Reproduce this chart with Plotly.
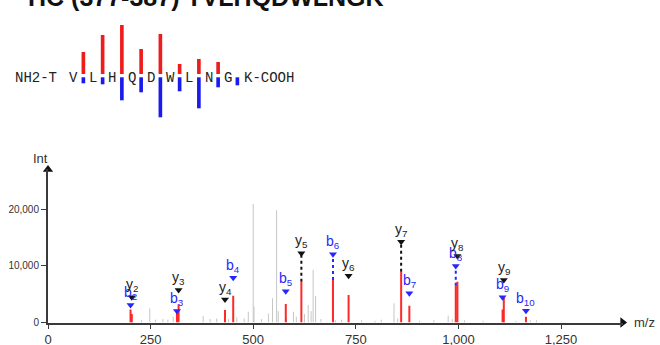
import plotly.graph_objects as go

# ---------------- data ----------------
title_text = "HC (377-387) TVLHQDWLNGK"

residues = ["T", "V", "L", "H", "Q", "D", "W", "L", "N", "G", "K"]
# fragment coverage bars between residue k and k+1 (k = 1..9)
site_index = [1.5, 2.5, 3.5, 4.5, 5.5, 6.5, 7.5, 8.5, 9.5]
site_red = [22, 39, 49, 25, 40, 10, 15, 12, 0]
site_blue = [6, 7, 23, 15, 40, 14, 31, 10, 8]

# matched fragment ions
ion_names = ["b2", "y2", "b3", "y3", "y4", "b4", "b5", "y5", "b6", "y6",
             "y7", "b7", "b8", "y8", "y9", "b9", "b10"]
ion_mz = [201.12, 204.13, 314.20, 318.18, 431.26, 451.26, 579.32, 617.34, 694.35, 732.37,
          860.42, 880.43, 993.51, 997.48, 1110.57, 1107.55, 1164.58]
ion_int = [2300, 1500, 1800, 3200, 2200, 4700, 3250, 7200, 7500, 4850,
           8950, 2950, 6500, 7200, 4300, 2300, 1000]
ion_mark = [3090, 4440, 2050, 5730, 4050, 7900, 5500, 12200, 12050, 8250,
            14250, 5150, 9960, 11730, 7500, 4440, 2080]
connected = ["y5", "b6", "y7", "b8"]

# unmatched peaks
gray_mz = [228, 248, 262, 280, 292, 305, 378, 395, 411, 440, 460, 478, 488, 500, 502,
           520, 537, 547, 557, 561, 581, 598, 605, 625, 634, 641, 646, 652, 665, 700,
           715, 764, 797, 812, 843, 852, 905, 940, 975, 985, 1015, 1060, 1140, 1175, 1190]
gray_int = [400, 2500, 500, 600, 500, 1000, 1150, 600, 700, 600, 900, 700, 1900, 20900, 2800,
            600, 1600, 4270, 19800, 2000, 900, 1900, 1000, 1500, 3090, 2000, 9300, 4700, 600, 400,
            500, 400, 300, 500, 3390, 700, 300, 400, 1200, 600, 400, 300, 300, 400, 400]

x_ticks = [0, 250, 500, 750, 1000, 1250]
y_ticks = [0, 10000, 20000]

# ---------------- figure ----------------
W, H = 660, 345
fig = go.Figure()

RED = "rgba(255,30,30,0.95)"
BLUE = "#2626ff"
GRAY = "#c6c6c6"
AX = "#3a3a3a"

# gray peaks
gx, gy = [], []
for m, v in zip(gray_mz, gray_int):
    gx += [m, m, None]
    gy += [0, v, None]
fig.add_trace(go.Scatter(x=gx, y=gy, mode="lines", line=dict(color=GRAY, width=1),
                         hoverinfo="skip", showlegend=False))

# red matched peaks
rx, ry = [], []
for m, v in zip(ion_mz, ion_int):
    rx += [m, m, None]
    ry += [0, v, None]
fig.add_trace(go.Scatter(x=rx, y=ry, mode="lines", line=dict(color=RED, width=2),
                         hoverinfo="skip", showlegend=False))

# dotted connectors
for name, m, v, mk in zip(ion_names, ion_mz, ion_int, ion_mark):
    if name in connected:
        col = "#111" if name[0] == "y" else BLUE
        fig.add_trace(go.Scatter(x=[m, m], y=[v, mk], mode="lines",
                                 line=dict(color=col, width=2, dash="dot"),
                                 hoverinfo="skip", showlegend=False))

# markers
for kind, col in (("y", "#111"), ("b", BLUE)):
    xs = [m for n, m in zip(ion_names, ion_mz) if n[0] == kind]
    ys = [mk for n, mk in zip(ion_names, ion_mark) if n[0] == kind]
    fig.add_trace(go.Scatter(x=xs, y=ys, mode="markers",
                             marker=dict(symbol="triangle-down", size=7, color=col),
                             hoverinfo="skip", showlegend=False, cliponaxis=False))

# labels
for name, m, mk in zip(ion_names, ion_mz, ion_mark):
    col = "#222" if name[0] == "y" else BLUE
    fig.add_annotation(x=m, y=mk, xref="x", yref="y",
                       text=f"{name[0]}<sub>{name[1:]}</sub>", showarrow=False,
                       xanchor="center", yanchor="bottom", yshift=1,
                       font=dict(family="Liberation Sans, Arial", size=14, color=col))

# axis arrowheads
fig.add_trace(go.Scatter(x=[1400], y=[0], mode="markers",
                         marker=dict(symbol="triangle-right", size=9, color="#111"),
                         hoverinfo="skip", showlegend=False, cliponaxis=False))
fig.add_trace(go.Scatter(x=[0], y=[27000], mode="markers",
                         marker=dict(symbol="triangle-up", size=9, color="#111"),
                         hoverinfo="skip", showlegend=False, cliponaxis=False))

# ---------------- peptide map (pixel-like axes) ----------------
fig.add_trace(go.Bar(x=site_index, y=site_red, base=1.5, width=0.19,
                     marker=dict(color="#ee1c1c", line=dict(width=0)),
                     xaxis="x2", yaxis="y2", hoverinfo="skip", showlegend=False))
fig.add_trace(go.Bar(x=site_index, y=[-d for d in site_blue], base=-1.8, width=0.19,
                     marker=dict(color="#1a1aee", line=dict(width=0)),
                     xaxis="x2", yaxis="y2", hoverinfo="skip", showlegend=False))

mono = dict(family="Liberation Mono, Courier New, monospace", size=14, color="#222")
for k, r in enumerate(residues[1:-1], start=1):
    fig.add_annotation(x=k, y=-2, xref="x2", yref="y2", text=r, showarrow=False,
                       xanchor="center", yanchor="middle", font=mono)
fig.add_annotation(x=0.25, y=-2, xref="x2", yref="y2", text="NH2-" + residues[0],
                   showarrow=False, xanchor="right", yanchor="middle", font=mono)
fig.add_annotation(x=len(residues) - 1 - 0.25, y=-2, xref="x2", yref="y2",
                   text=residues[-1] + "-COOH", showarrow=False, xanchor="left",
                   yanchor="middle", font=mono)

# title (cut off at top)
fig.add_annotation(x=206 / W, y=1.0, xref="paper", yref="paper", text=f"<b>{title_text}</b>",
                   showarrow=False, xanchor="center", yanchor="middle", yshift=3,
                   font=dict(family="Liberation Sans, Arial", size=25, color="#111"))

# axis titles
fig.add_annotation(x=40 / W, y=1 - 158.5 / H, xref="paper", yref="paper", text="Int",
                   showarrow=False, xanchor="center", yanchor="middle",
                   font=dict(family="Liberation Sans, Arial", size=13, color="#333"))
fig.add_annotation(x=644 / W, y=1 - 322.5 / H, xref="paper", yref="paper", text="m/z",
                   showarrow=False, xanchor="center", yanchor="middle",
                   font=dict(family="Liberation Sans, Arial", size=13, color="#333"))

fig.update_layout(
    width=W, height=H,
    margin=dict(l=0, r=0, t=0, b=0, autoexpand=False),
    paper_bgcolor="white", plot_bgcolor="rgba(0,0,0,0)",
    barmode="overlay",
    xaxis=dict(domain=[48 / W, 622.6 / W], range=[0, 1400], showgrid=False, zeroline=False,
               automargin=False,
               showline=True, linecolor=AX, linewidth=2,
               ticks="outside", ticklen=4, tickwidth=1, tickcolor=AX,
               tickvals=x_ticks, tickformat=",d",
               tickfont=dict(family="Liberation Sans, Arial", size=13, color="#333")),
    yaxis=dict(domain=[(H - 322.5) / H, (H - 169.4) / H], range=[0, 27000], showgrid=False,
               automargin=False,
               zeroline=False, showline=True, linecolor=AX, linewidth=2,
               ticks="outside", ticklen=5, tickwidth=1, tickcolor=AX,
               tickvals=y_ticks, tickformat=",d",
               tickfont=dict(family="Liberation Sans, Arial", size=10, color="#333")),
    xaxis2=dict(domain=[0, 1], range=[-54.5 / 19.25, (W - 54.5) / 19.25], visible=False,
                anchor="y2", fixedrange=True, automargin=False),
    yaxis2=dict(domain=[0, 1], range=[75.5 - H, 75.5], visible=False, anchor="x2",
                fixedrange=True, automargin=False),
)

fig.write_html("out.html", config={"displayModeBar": False},
               post_script="document.body.style.margin='0';document.body.style.overflow='hidden';")
